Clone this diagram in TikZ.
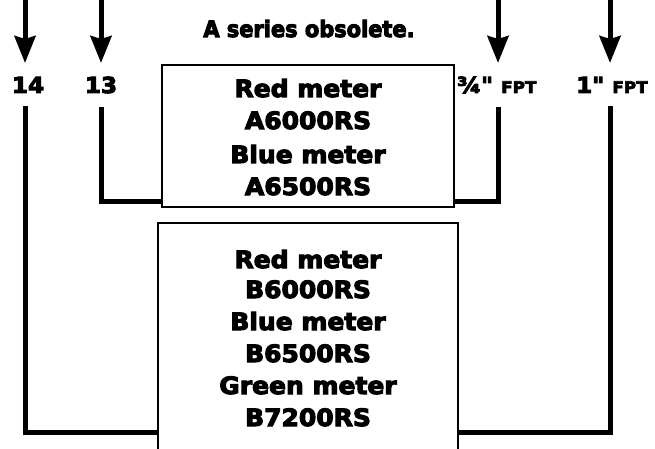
\documentclass[tikz,border=0pt]{standalone}
\usepackage{fontspec}
\newfontfamily\mfont{DejaVu Sans}[FakeStretch=1.05,BoldFeatures={FakeBold=4.5}]
\newfontfamily\tfont{DejaVu Sans}[FakeStretch=0.93,BoldFeatures={FakeBold=4.5}]
\usetikzlibrary{arrows.meta,calc}
\begin{document}
\begin{tikzpicture}[x=1pt,y=-1pt,
  conn/.style={line width=5pt,line join=miter},
  arr/.style={line width=5pt,-{Stealth[length=27pt,width=21pt,inset=3pt]}},
  box/.style={draw,line width=2pt,inner sep=0pt},
  txt/.style={font=\mfont\bfseries\fontsize{23.8}{27}\selectfont,anchor=base,inner sep=0pt},
  lbl/.style={font=\mfont\bfseries\fontsize{22}{25}\selectfont,anchor=base,inner sep=0pt},
  ttl/.style={font=\tfont\bfseries\fontsize{22.5}{25}\selectfont,anchor=base,inner sep=0pt}]
\useasboundingbox (0,0) rectangle (655,449);
\clip (0,0) rectangle (655,449);

% boxes
\node[box,minimum width=292pt,minimum height=142pt] (boxA) at (308,136) {};
\node[box,minimum width=300pt,minimum height=418pt] (boxB) at (308,432) {};

% title
\node[ttl] (title) at (309,37) {A series obsolete.};

% box A text
\node[txt] (a1) at (308,97) {Red meter};
\node[txt] (a2) at (308,129) {A6000RS};
\node[txt] (a3) at (308,163) {Blue meter};
\node[txt] (a4) at (308,195) {A6500RS};

% box B text
\node[txt] (b1) at (308,268) {Red meter};
\node[txt] (b2) at (308,298) {B6000RS};
\node[txt] (b3) at (308,330) {Blue meter};
\node[txt] (b4) at (308,362) {B6500RS};
\node[txt] (b5) at (308,394) {Green meter};
\node[txt] (b6) at (308,426) {B7200RS};

% labels
\node[lbl] (l14) at (28,93) {14};
\node[lbl] (l13) at (101,93) {13};
\node[lbl,anchor=base west] (l34) at (457,93) {¾" {\fontsize{16}{18}\selectfont FPT}};
\node[lbl,anchor=base west] (l1) at (576,93) {1" {\fontsize{16}{18}\selectfont FPT}};

% arrow tops
\coordinate (t14) at (25,0);
\coordinate (t13) at (101,0);
\coordinate (t34) at (498,0);
\coordinate (t1) at (610,0);

\draw[arr] (t14) -- (25,63);
\draw[arr] (t13) -- (101,63);
\draw[arr] (t34) -- (498,63);
\draw[arr] (t1) -- (610,63);

% connectors
\draw[conn] ($(t14 |- l14.south)+(0,13)$) |- (boxB.west);
\draw[conn] ($(t13 |- l13.south)+(0,13)$) |- ($(boxA.south west)+(0,-7)$);
\draw[conn] ($(t34 |- l34.south)+(0,13)$) |- ($(boxA.south east)+(0,-7)$);
\draw[conn] ($(t1 |- l1.south)+(0,13)$) |- (boxB.east);
\end{tikzpicture}
\end{document}
